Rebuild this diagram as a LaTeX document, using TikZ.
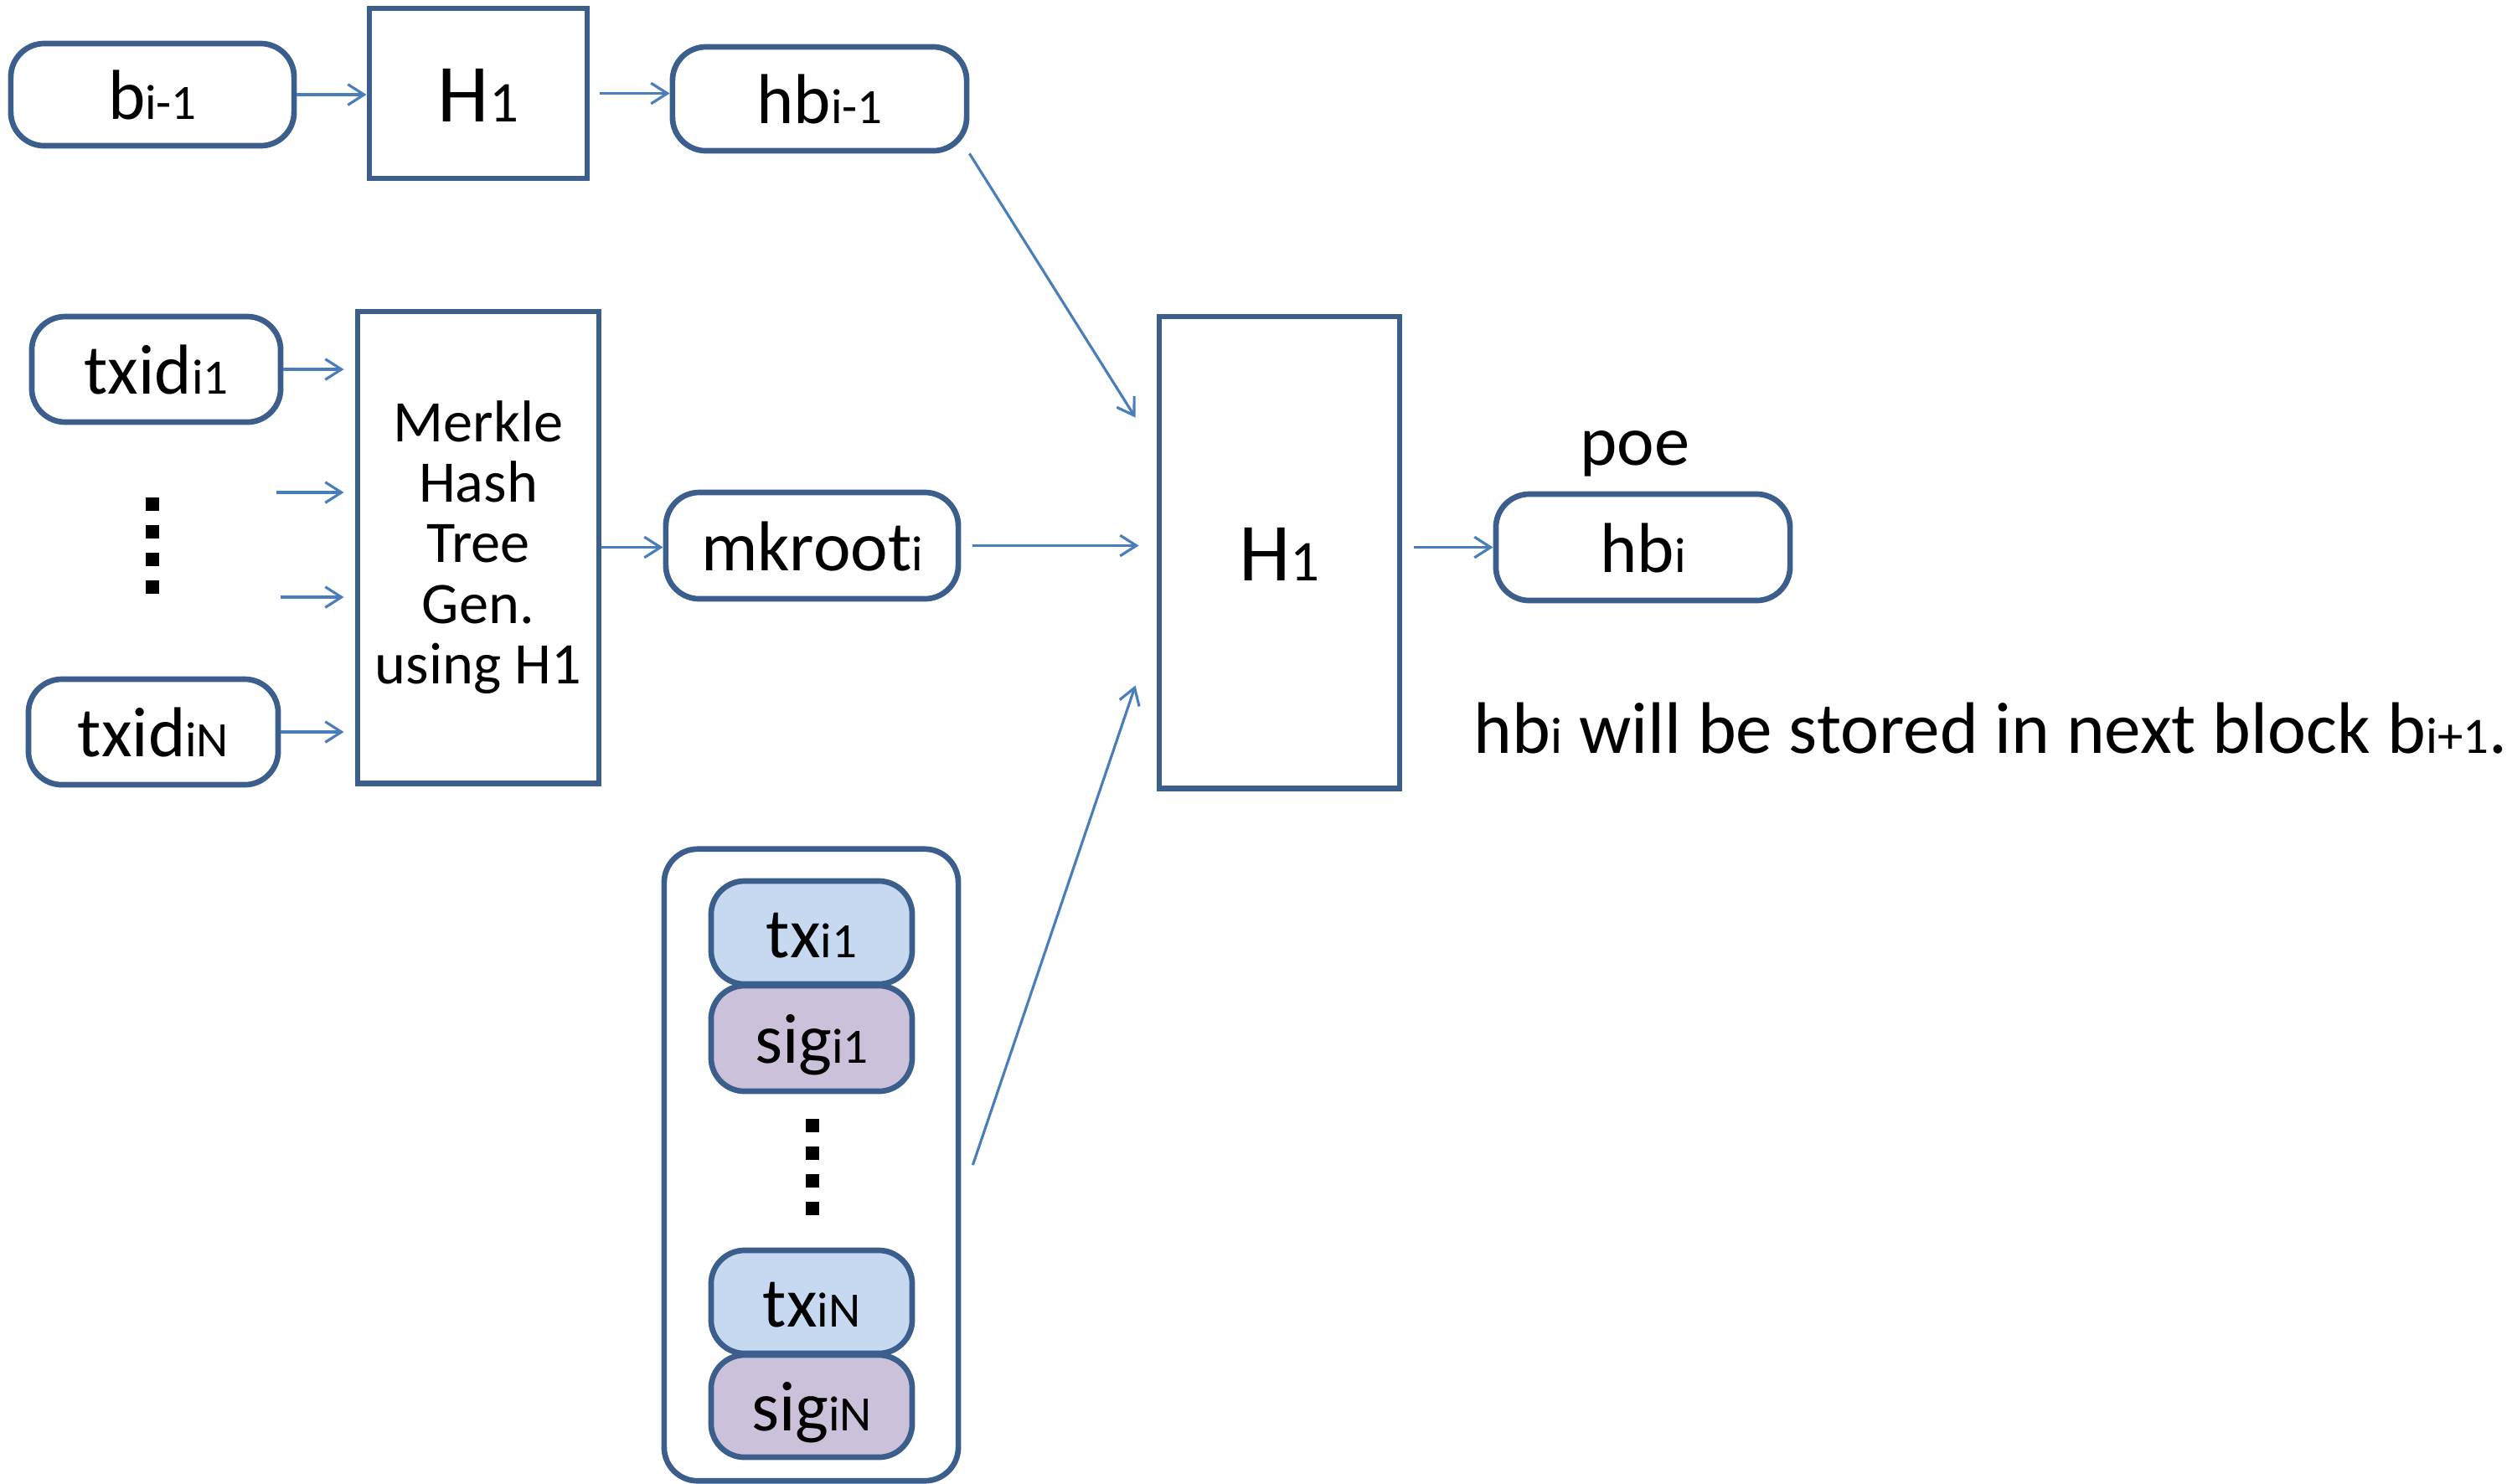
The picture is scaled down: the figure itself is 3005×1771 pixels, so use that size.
\documentclass[tikz,border=0pt]{standalone}
\usepackage{fontspec}
\setmainfont{Carlito}
\usepackage{graphicx}
\usetikzlibrary{arrows.meta}
\newcommand{\lo}[1]{\scalebox{0.7}{#1}}
\definecolor{bord}{HTML}{3B5E8C}
\definecolor{arr}{HTML}{4A7EBB}
\definecolor{txfill}{HTML}{C6D9F1}
\definecolor{sigfill}{HTML}{CCC1DA}
\begin{document}
\begin{tikzpicture}[x=0.01cm,y=-0.01cm,
  font=\fontsize{24pt}{28pt}\selectfont,
  rbox/.style={draw=bord, line width=1.9pt, rounded corners=0.4cm, inner sep=0pt, text height=16.8pt, text depth=0pt},
  sbox/.style={draw=bord, line width=1.9pt, inner sep=0pt},
  hbox/.style={sbox, font=\fontsize{28pt}{32pt}\selectfont, text height=19.5pt, text depth=0pt},
  flow/.style={draw=arr, line width=0.9pt, -{Straight Barb[length=5.5pt,width=7pt]}},
  dotsq/.style={fill=black}
]
\useasboundingbox (0,0) rectangle (3005,1771);

% top row
\node[rbox, minimum width=3.38cm, minimum height=1.22cm] (bi) at (182,113) {b\lo{i-1}};
\node[hbox, minimum width=2.60cm, minimum height=2.03cm] (H1a) at (571,111.5) {H\lo{1}};
\node[rbox, minimum width=3.51cm, minimum height=1.24cm] (hbim) at (978.5,118) {hb\lo{i-1}};

% merkle part
\node[rbox, minimum width=2.97cm, minimum height=1.26cm] (txid1) at (186.5,441) {txid\lo{i1}};
\node[rbox, minimum width=2.98cm, minimum height=1.26cm] (txidN) at (183,874) {txid\lo{iN}};
\node[sbox, minimum width=2.88cm, minimum height=5.63cm, align=center,
      font=\fontsize{20pt}{20.6pt}\selectfont] (merkle) at (571,653.5) {Merkle\\Hash\\Tree\\Gen.\\using H1};
\node[rbox, minimum width=3.49cm, minimum height=1.27cm] (mkroot) at (969.5,651.5) {mkroot\lo{i}};

\foreach \yy in {602,635,668,701} \fill[dotsq] (174,\yy-8) rectangle (190,\yy+8);

% big H1
\node[hbox, minimum width=2.87cm, minimum height=5.63cm] (H1b) at (1527.5,659.5) {H\lo{1}};
\node[rbox, minimum width=3.51cm, minimum height=1.27cm] (hbi) at (1961.5,653.5) {hb\lo{i}};
\node[anchor=base, inner sep=0pt] (poe) at (1952,555) {poe};
\node[anchor=base west, inner sep=0pt, font=\fontsize{24.8pt}{30pt}\selectfont] (note) at (1759,899) {hb\lo{i} will be stored in next block b\lo{i+1}.};

% container
\node[rbox, minimum width=3.51cm, minimum height=7.54cm] (cont) at (968.5,1391) {};
\node[rbox, fill=txfill, minimum width=2.40cm, minimum height=1.23cm] (txi1) at (969,1113.5) {tx\lo{i1}};
\node[rbox, fill=sigfill, minimum width=2.40cm, minimum height=1.26cm] (sigi1) at (969,1240) {sig\lo{i1}};
\node[rbox, fill=txfill, minimum width=2.40cm, minimum height=1.23cm] (txiN) at (969,1554.5) {tx\lo{iN}};
\node[rbox, fill=sigfill, minimum width=2.40cm, minimum height=1.22cm] (sigiN) at (969,1679) {sig\lo{iN}};
\foreach \yy in {1344,1377,1410,1443} \fill[dotsq] (962,\yy-8) rectangle (978,\yy+8);

% arrows
\draw[flow] (bi.east) -- (H1a.west |- bi.east);
\draw[flow] ([xshift=0.12cm]H1a.east) -- (hbim.west |- H1a.east);
\draw[flow] (txid1.east) -- ([xshift=-0.13cm]merkle.west |- txid1.east);
\coordinate (m2) at (330,588);
\coordinate (m3) at (335,713);
\draw[flow] (m2) -- ([xshift=-0.13cm]merkle.west |- m2);
\draw[flow] (m3) -- ([xshift=-0.13cm]merkle.west |- m3);
\draw[flow] (txidN.east) -- ([xshift=-0.13cm]merkle.west |- txidN.east);
\draw[flow] (merkle.east) -- (mkroot.west |- merkle.east);
\draw[flow] ([xshift=0.14cm]mkroot.east) -- ([xshift=-0.21cm]H1b.west |- mkroot.east);
\draw[flow] (hbim.south east) -- ([shift={(-0.25cm,-1.24cm)}]H1b.north west);
\draw[flow] ([xshift=0.14cm]cont.east) -- ([shift={(-0.25cm,1.26cm)}]H1b.south west);
\draw[flow] ([xshift=0.14cm]H1b.east |- hbi.west) -- (hbi.west);
\end{tikzpicture}
\end{document}
